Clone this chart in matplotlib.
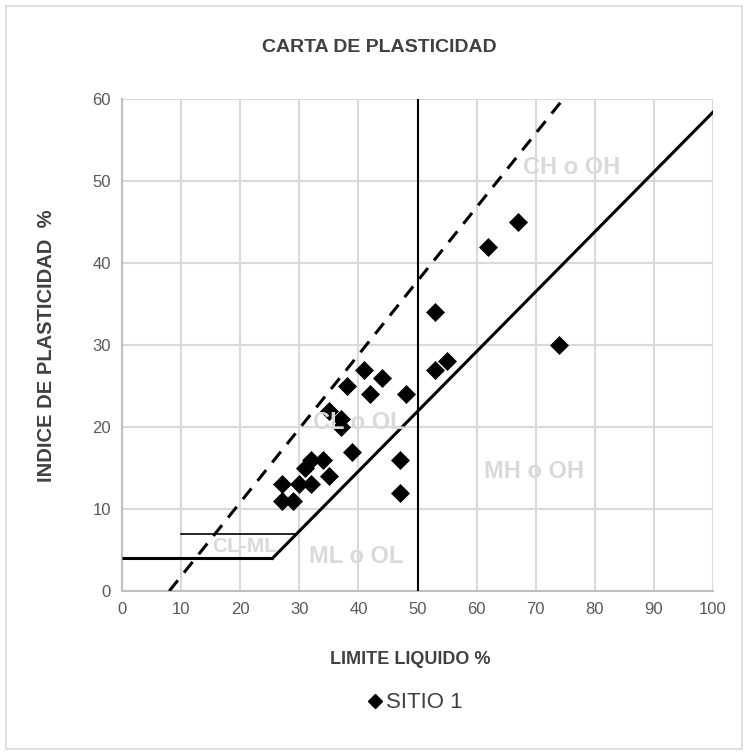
import matplotlib
matplotlib.use("Agg")
import matplotlib.pyplot as plt
from matplotlib.patches import Rectangle
from matplotlib.lines import Line2D

# Sample data: liquid limit (LL) and plasticity index (PI), %
ll_values = [27, 30, 32, 27, 29, 31, 32, 34, 35, 39, 41, 38, 44, 42, 48,
             35, 37, 37, 47, 47, 53, 53, 55, 62, 67, 74]
pi_values = [13, 13, 13, 11, 11, 15, 16, 16, 14, 17, 27, 25, 26, 24, 24,
             22, 21, 20, 16, 12, 34, 27, 28, 42, 45, 30]

x_ticks = [0, 10, 20, 30, 40, 50, 60, 70, 80, 90, 100]
y_ticks = [0, 10, 20, 30, 40, 50, 60]

zone_labels = ["CH o OH", "CL o OL", "MH o OH", "ML o OL", "CL-ML"]
zone_pos = [(76, 51.7), (40, 20.6), (69.7, 14.6), (39.6, 4.2), (20.8, 5.4)]
zone_size = [17, 17, 17, 17, 15]

FONT = ["Liberation Sans Narrow", "Liberation Sans", "DejaVu Sans"]
plt.rcParams["font.family"] = ["Liberation Sans", "DejaVu Sans"]

fig = plt.figure(figsize=(7.48, 7.55), dpi=100)
fig.patch.set_facecolor("white")
fig.patches.append(Rectangle((6 / 748, 6 / 755), 736 / 748, 743 / 755,
                             transform=fig.transFigure, fill=False,
                             edgecolor="#d9d9d9", linewidth=1.2))

ax = fig.add_axes([122 / 748, (755 - 591) / 755, 591 / 748, 492 / 755])
ax.set_xlim(0, 100)
ax.set_ylim(0, 60)
ax.set_xticks(x_ticks)
ax.set_yticks(y_ticks)
ax.grid(True, color="#d9d9d9", linewidth=1.5)
ax.set_axisbelow(True)
for side in ["top", "right"]:
    ax.spines[side].set_visible(False)
for side in ["left", "bottom"]:
    ax.spines[side].set_color("#bfbfbf")
    ax.spines[side].set_linewidth(1.5)
ax.tick_params(length=0, labelsize=12, labelcolor="#595959", pad=8)

# A-line: PI = 0.73 (LL - 20), with PI = 4 floor
ll_a0 = 20 + 4 / 0.73
ax.plot([0, ll_a0], [4, 4], color="black", lw=2.2, solid_capstyle="butt", zorder=3)
ax.plot([ll_a0, 100], [4, 0.73 * (100 - 20)], color="black", lw=2.2, zorder=3)
# CL-ML upper bound PI = 7
ax.plot([10, 20 + 7 / 0.73], [7, 7], color="black", lw=1.2, zorder=3)
# U-line: PI = 0.9 (LL - 8)
ax.plot([8, 8 + 60 / 0.9], [0, 60], color="black", lw=2.2,
        dashes=(4.5, 3.2), zorder=3)
# LL = 50 boundary
ax.plot([50, 50], [0, 60], color="black", lw=1.5, zorder=3)

ax.plot(ll_values, pi_values, linestyle="none", marker="D", ms=9,
        mew=0.5, color="black", zorder=4)

for lab, (x, y), fs in zip(zone_labels, zone_pos, zone_size):
    ax.text(x, y, lab, ha="center", va="center", fontsize=fs,
            fontweight="bold", color="#d9d9d9", family=FONT, zorder=5)

fig.text(379 / 748, 1 - 47 / 755, "CARTA DE PLASTICIDAD", ha="center",
         va="center", fontsize=14, fontweight="bold", color="#404040")
fig.text(410 / 748, 1 - 660 / 755, "LIMITE LIQUIDO %", ha="center",
         va="center", fontsize=13, fontweight="bold", color="#404040")
fig.text(47 / 748, 1 - 346 / 755, "INDICE DE PLASTICIDAD  %", ha="center",
         va="center", rotation=90, fontsize=14.5, fontweight="bold",
         color="#404040")

handle = Line2D([], [], linestyle="none", marker="D", ms=7, color="black")
fig.legend([handle], ["SITIO 1"], loc="center",
           bbox_to_anchor=(414 / 748, 1 - 703 / 755), frameon=False,
           fontsize=16, handletextpad=0.05, handlelength=0.9,
           labelcolor="#404040")

fig.savefig("out.png", dpi=100, facecolor="white")
